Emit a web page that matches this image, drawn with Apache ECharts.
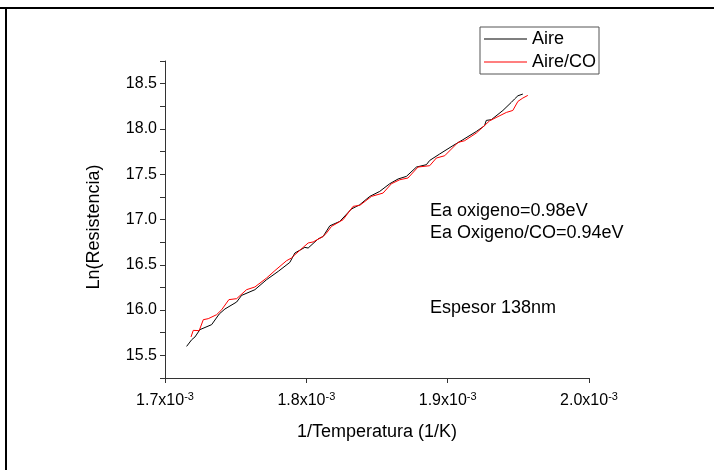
<!DOCTYPE html>
<html>
<head>
<meta charset="utf-8">
<script src="https://cdn.jsdelivr.net/npm/echarts@6/dist/echarts.min.js"></script>
<style>
html,body{margin:0;padding:0;background:#fff;}
#chart{width:714px;height:470px;}
</style>
</head>
<body>
<div id="chart"></div>
<script>
// 1/T (1/K) and Ln(R) for "Aire"
var aireX = [0.0017153,0.0017189,0.0017212,0.0017247,0.0017330,0.0017384,0.0017424,0.0017507,0.0017542,0.0017636,
  0.0017719,0.0017801,0.0017883,0.0017919,0.0017989,0.0018013,0.0018083,0.0018119,0.0018166,0.0018237,
  0.0018319,0.0018378,0.0018449,0.0018519,0.0018590,0.0018649,0.0018708,0.0018779,0.0018849,0.0018873,
  0.0018943,0.0019037,0.0019108,0.0019203,0.0019261,0.0019273,0.0019309,0.0019391,0.0019450,0.0019473,
  0.0019497,0.0019532];
var aireY = [15.599,15.673,15.703,15.784,15.839,15.957,16.012,16.089,16.162,16.225,
  16.336,16.427,16.526,16.630,16.692,16.685,16.785,16.813,16.930,16.979,
  17.116,17.163,17.255,17.310,17.395,17.447,17.476,17.579,17.605,17.652,
  17.723,17.815,17.881,17.972,18.035,18.094,18.102,18.204,18.293,18.330,
  18.366,18.385];
// 1/T (1/K) and Ln(R) for "Aire/CO"
var coX = [0.0017184,0.0017200,0.0017242,0.0017271,0.0017306,0.0017365,0.0017401,0.0017452,0.0017507,0.0017577,
  0.0017636,0.0017719,0.0017777,0.0017860,0.0017895,0.0017919,0.0018013,0.0018048,0.0018119,0.0018143,
  0.0018178,0.0018260,0.0018331,0.0018378,0.0018461,0.0018543,0.0018602,0.0018661,0.0018719,0.0018790,
  0.0018873,0.0018920,0.0018979,0.0019073,0.0019120,0.0019203,0.0019297,0.0019415,0.0019461,0.0019497,
  0.0019532,0.0019567];
var coY = [15.703,15.776,15.773,15.894,15.905,15.949,16.004,16.115,16.126,16.225,
  16.255,16.354,16.435,16.545,16.575,16.611,16.741,16.752,16.813,16.851,
  16.924,16.998,17.145,17.156,17.255,17.292,17.395,17.439,17.458,17.579,
  17.594,17.679,17.704,17.851,17.870,17.955,18.090,18.182,18.204,18.304,
  18.341,18.370];
var seriesNames = ['Aire', 'Aire/CO'];
var notes = ['Ea oxigeno=0.98eV', 'Ea Oxigeno/CO=0.94eV', 'Espesor 138nm'];
var xTitle = '1/Temperatura (1/K)';
var yTitle = 'Ln(Resistencia)';

function zip(xs, ys){ return xs.map(function(x,i){ return [x, ys[i]]; }); }

var FONT = '"Liberation Sans", Arial, sans-serif';
var chart = echarts.init(document.getElementById('chart'), null, {renderer:'canvas'});
chart.setOption({
  animation: false,
  backgroundColor: '#fff',
  grid: {left: 165, right: 125, top: 61, bottom: 92, containLabel: false},
  legend: {
    orient: 'vertical', left: 480, top: 27,
    data: seriesNames,
    icon: 'rect',
    itemWidth: 43, itemHeight: 1, itemGap: 3,
    padding: [2, 3, 2, 4],
    borderColor: '#555', borderWidth: 1,
    textStyle: {fontFamily: FONT, fontSize: 18, color: '#000', lineHeight: 20}
  },
  xAxis: {
    type: 'value', min: 0.0017, max: 0.002, interval: 0.0001,
    name: xTitle, nameLocation: 'middle', nameGap: 45,
    nameTextStyle: {fontFamily: FONT, fontSize: 18, color: '#000'},
    axisLine: {show: true, onZero: false, lineStyle: {color: '#333', width: 1}},
    axisTick: {show: true, inside: false, length: 5, lineStyle: {color: '#333'}},
    splitLine: {show: false},
    axisLabel: {
      margin: 13, color: '#000',
      formatter: function(v){ return '{a|' + (v*1e3).toFixed(1) + 'x10}{b|-3}'; },
      rich: {
        a: {fontFamily: FONT, fontSize: 16, color: '#000', lineHeight: 20},
        b: {fontFamily: FONT, fontSize: 11, color: '#000', verticalAlign: 'top'}
      }
    }
  },
  yAxis: {
    type: 'value', min: 15.25, max: 18.75, interval: 0.25,
    name: yTitle, nameLocation: 'middle', nameGap: 62,
    nameTextStyle: {fontFamily: FONT, fontSize: 18, color: '#000', padding: [0, 15, 0, 0]},
    axisLine: {show: true, onZero: false, lineStyle: {color: '#333', width: 1}},
    axisTick: {show: true, inside: false, length: 5, lineStyle: {color: '#333'}},
    splitLine: {show: false},
    axisLabel: {
      margin: 8, fontFamily: FONT, fontSize: 16, color: '#000',
      formatter: function(v){
        var k = Math.round(v*4);
        return (k % 2 === 0) ? v.toFixed(1) : '';
      }
    }
  },
  series: [
    {name: seriesNames[0], type: 'line', data: zip(aireX, aireY), symbol: 'none',
     lineStyle: {color: '#000', width: 1}, itemStyle: {color: '#000'}},
    {name: seriesNames[1], type: 'line', data: zip(coX, coY), symbol: 'none',
     lineStyle: {color: '#ff0000', width: 1}, itemStyle: {color: '#ff0000'}}
  ],
  graphic: [
    {type: 'line', shape: {x1: 0, y1: 8, x2: 714, y2: 8}, style: {stroke: '#000', lineWidth: 2}},
    {type: 'line', shape: {x1: 6, y1: 7, x2: 6, y2: 470}, style: {stroke: '#000', lineWidth: 2}},
    {type: 'text', left: 430, top: 202, style: {text: notes[0], font: '18px ' + FONT, fill: '#000'}},
    {type: 'text', left: 430, top: 224, style: {text: notes[1], font: '18px ' + FONT, fill: '#000'}},
    {type: 'text', left: 430, top: 299, style: {text: notes[2], font: '18px ' + FONT, fill: '#000'}}
  ]
});
</script>
</body>
</html>
